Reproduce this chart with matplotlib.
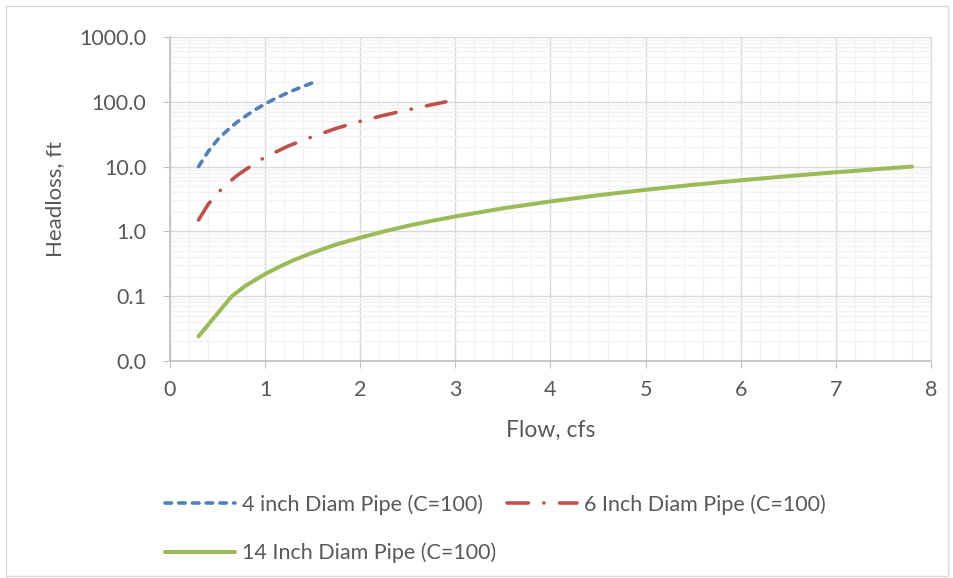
import matplotlib
matplotlib.use("Agg")
import matplotlib.pyplot as plt
from matplotlib.ticker import FuncFormatter, LogLocator, MultipleLocator
from matplotlib.patches import Rectangle

plt.rcParams["font.family"] = ["Lato", "DejaVu Sans"]

TEXT = "#595959"

# 4 inch pipe
q4 = [0.3, 0.4, 0.5, 0.6, 0.7, 0.8, 0.9, 1.0, 1.1, 1.2, 1.3, 1.4, 1.5]
h4 = [10.0, 17.0, 26.0, 36.0, 48.0, 61.0, 76.0, 93.0, 111.0, 130.0, 151.0, 173.0, 197.0]

# 6 inch pipe
q6 = [0.3, 0.4, 0.5, 0.6, 0.7, 0.85, 1.0, 1.25, 1.5, 1.75, 2.0, 2.25, 2.5, 2.75, 2.9]
h6 = [1.5, 2.6, 3.9, 5.4, 7.2, 10.2, 14.0, 21.0, 29.0, 39.0, 50.0, 62.0, 75.0, 90.0, 100.0]

# 14 inch pipe
q14 = [0.3, 0.65, 0.8, 1.0, 1.15, 1.3, 1.5, 1.75, 2.0, 2.25, 2.5, 2.75, 3.0, 3.5,
       4.0, 4.5, 5.0, 5.5, 6.0, 6.5, 7.0, 7.5, 7.8]
h14 = [0.024, 0.10, 0.147, 0.22, 0.285, 0.36, 0.47, 0.63, 0.80, 1.00, 1.22, 1.45,
       1.70, 2.27, 2.90, 3.61, 4.39, 5.24, 6.15, 7.13, 8.18, 9.30, 10.0]

labels = ["4 inch Diam Pipe (C=100)", "6 Inch Diam Pipe (C=100)",
          "14 Inch Diam Pipe (C=100)"]

fig = plt.figure(figsize=(9.54, 5.78), dpi=100)
ax = fig.add_axes([170 / 954, 1 - 361 / 578, 761 / 954, 324 / 578])

l4, = ax.plot(q4, h4, color="#4F81BD", lw=2.6, dash_capstyle="round",
              dashes=(1.8, 2.0), label=labels[0])
l6, = ax.plot(q6, h6, color="#C0504D", lw=2.6, dash_capstyle="round",
              dashes=(5.9, 4.3, 0.05, 4.3), label=labels[1])
l14, = ax.plot(q14, h14, color="#9BBB59", lw=2.9, solid_capstyle="round",
               label=labels[2])

ax.set_yscale("log")
ax.set_ylim(0.01, 1000)
ax.set_xlim(0, 8)
ax.xaxis.set_major_locator(MultipleLocator(1))
ax.xaxis.set_minor_locator(MultipleLocator(0.2))
ax.yaxis.set_major_locator(LogLocator(base=10, numticks=10))
ax.yaxis.set_minor_locator(LogLocator(base=10, subs=range(2, 10), numticks=20))
ax.yaxis.set_major_formatter(FuncFormatter(lambda v, p: f"{v:.1f}"))
ax.yaxis.set_minor_formatter(FuncFormatter(lambda v, p: ""))

ax.grid(which="major", color="#D9D9D9", lw=1)
ax.grid(which="minor", color="#F2F2F2", lw=1)
ax.set_axisbelow(True)

for s in ["top", "right"]:
    ax.spines[s].set_color("#D9D9D9")
for s in ["left", "bottom"]:
    ax.spines[s].set_color("#BFBFBF")
    ax.spines[s].set_linewidth(1.2)

ax.tick_params(which="major", length=5, color="#BFBFBF", labelsize=15.5,
               labelcolor=TEXT)
ax.tick_params(axis="y", pad=12)
ax.tick_params(axis="x", pad=9)
ax.tick_params(which="minor", length=0)

ax.set_xlabel("Flow, cfs", fontsize=16.5, color=TEXT, labelpad=14)
ax.set_ylabel("Headloss, ft", fontsize=16, color=TEXT, labelpad=10)

fig.legend(handles=[l4, l14, l6], labels=[labels[0], labels[2], labels[1]],
           ncol=2, loc="upper left", bbox_to_anchor=(146 / 954, 1 - 475 / 578),
           frameon=False, fontsize=15.5, labelcolor=TEXT, handlelength=3.25,
           handletextpad=0.33, columnspacing=0.47, labelspacing=1.28)

fig.patches.append(Rectangle((6 / 954, 2 / 578), 942 / 954, 570 / 578,
                             transform=fig.transFigure, fill=False,
                             edgecolor="#D9D9D9", lw=1))

fig.savefig("out.png", dpi=100)
